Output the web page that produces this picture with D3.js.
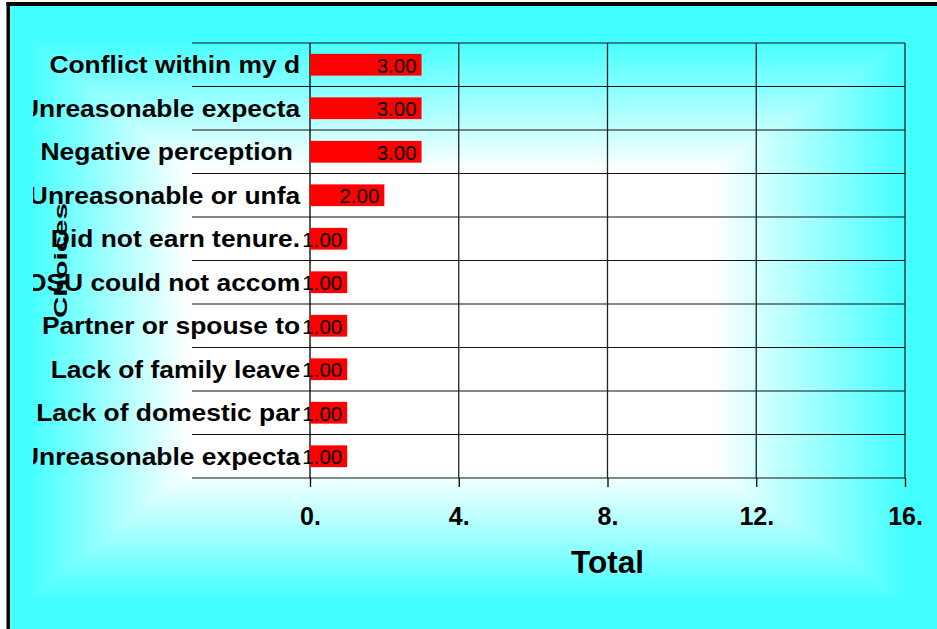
<!DOCTYPE html>
<html>
<head>
<meta charset="utf-8">
<script src="https://cdn.jsdelivr.net/npm/d3@7"></script>
<style>
  html, body { margin: 0; padding: 0; background: #ffffff; }
  svg { display: block; }
  text { font-family: "Liberation Sans", Arial, Helvetica, sans-serif; }
</style>
</head>
<body>
<svg id="chart" width="937" height="629"></svg>
<script>
// Category labels (cut to 20 characters, as the source sheet stores them)
const categories = [
  "Conflict within my d",
  "Unreasonable expecta",
  "Negative perception ",
  "Unreasonable or unfa",
  "Did not earn tenure.",
  "OSU could not accom",
  "Partner or spouse to",
  "Lack of family leave",
  "Lack of domestic par",
  "Unreasonable expecta"
];
// Response totals per category
const totals = [3, 3, 3, 2, 1, 1, 1, 1, 1, 1];
// Value axis ticks and their printed labels
const xTickValues = [0, 4, 8, 12, 16];
const xTickLabels = ["0.", "4.", "8.", "12.", "16."];
const xTitle = "Total";
const yTitle = "Choices";

const W = 937, H = 629;
const plot = { left: 310, right: 905, top: 43, bottom: 478 };
const cyan = "#44ffff";

const svg = d3.select("#chart");
const defs = svg.append("defs");

// Rectangular "from centre" fill: a horizontal and a vertical ramp, combined by darken
const hGrad = defs.append("linearGradient").attr("id", "hGrad")
  .attr("gradientUnits", "userSpaceOnUse").attr("x1", 10).attr("x2", W).attr("y1", 0).attr("y2", 0);
[[0, cyan], [0.02, cyan], [0.194, "#ffffff"], [0.76, "#ffffff"], [0.966, cyan], [1, cyan]]
  .forEach(([o, c]) => hGrad.append("stop").attr("offset", o).attr("stop-color", c));
const vGrad = defs.append("linearGradient").attr("id", "vGrad")
  .attr("gradientUnits", "userSpaceOnUse").attr("x1", 0).attr("x2", 0).attr("y1", 6).attr("y2", H);
[[0, cyan], [0.055, cyan], [0.263, "#ffffff"], [0.745, "#ffffff"], [0.953, cyan], [1, cyan]]
  .forEach(([o, c]) => vGrad.append("stop").attr("offset", o).attr("stop-color", c));

const bg = svg.append("g").style("isolation", "isolate");
bg.append("rect").attr("x", 10).attr("y", 6).attr("width", W - 10).attr("height", H - 6)
  .attr("fill", "url(#hGrad)");
bg.append("rect").attr("x", 10).attr("y", 6).attr("width", W - 10).attr("height", H - 6)
  .attr("fill", "url(#vGrad)").style("mix-blend-mode", "darken");

// Chart frame (top and left edges)
svg.append("rect").attr("x", 6.5).attr("y", 2).attr("width", W - 6.5).attr("height", 4).attr("fill", "#000");
svg.append("rect").attr("x", 6.5).attr("y", 2).attr("width", 3.5).attr("height", H - 2).attr("fill", "#000");

// Scales
const x = d3.scaleLinear().domain([0, 16]).range([plot.left, plot.right]);
const y = d3.scaleBand().domain(d3.range(categories.length))
  .range([plot.top, plot.bottom]).paddingInner(0.5).paddingOuter(0.25);

// Row separators, running out under the category labels
const rowEdges = d3.range(categories.length + 1).map(i => plot.top + i * y.step());
svg.append("g").selectAll("line").data(rowEdges).join("line")
  .attr("x1", 192).attr("x2", plot.right)
  .attr("y1", d => d).attr("y2", d => d)
  .attr("stroke", "#111").attr("stroke-width", 1.2);

// Vertical gridlines
svg.append("g").selectAll("line").data(xTickValues.filter(v => v > 0)).join("line")
  .attr("x1", d => x(d)).attr("x2", d => x(d))
  .attr("y1", plot.top).attr("y2", plot.bottom)
  .attr("stroke", "#222").attr("stroke-width", 1.3);

// Category axis line
svg.append("line").attr("x1", x(0)).attr("x2", x(0)).attr("y1", plot.top).attr("y2", plot.bottom)
  .attr("stroke", "#000").attr("stroke-width", 1.3);

// Value axis
const xAxis = d3.axisBottom(x).tickValues(xTickValues)
  .tickFormat((d, i) => xTickLabels[i]).tickSize(9).tickPadding(20);
const gx = svg.append("g").attr("transform", `translate(0,${plot.bottom})`).call(xAxis);
gx.select(".domain").remove();
gx.selectAll(".tick line").attr("stroke", "#000").attr("stroke-width", 1.3);
gx.selectAll(".tick text")
  .attr("font-family", "'Liberation Sans', Arial, sans-serif")
  .attr("font-size", 25).attr("font-weight", "bold").attr("fill", "#000");

// Category axis labels, clipped on the left
defs.append("clipPath").attr("id", "labelClip")
  .append("rect").attr("x", 33).attr("y", 0).attr("width", plot.left - 33).attr("height", H);
const yAxis = d3.axisLeft(y).tickSize(0).tickPadding(9).tickFormat(i => categories[i]);
const gy = svg.append("g").attr("clip-path", "url(#labelClip)")
  .append("g").attr("transform", `translate(${plot.left},0)`).call(yAxis);
gy.select(".domain").remove();
gy.selectAll(".tick text")
  .attr("font-family", "'Liberation Sans', Arial, sans-serif")
  .attr("font-size", 24).attr("font-weight", "bold").attr("fill", "#000")
  .attr("dy", "0.36em")
  .attr("transform", "scale(1.1,1)")
  .style("white-space", "pre");

// Bars
svg.append("g").selectAll("rect").data(totals).join("rect")
  .attr("x", x(0))
  .attr("y", (d, i) => y(i))
  .attr("width", d => x(d) - x(0))
  .attr("height", y.bandwidth())
  .attr("fill", "#ff0000");

// Value labels at the bar ends
const fmt = d3.format(".2f");
svg.append("g").selectAll("text").data(totals).join("text")
  .attr("x", d => x(d) - 5)
  .attr("y", (d, i) => y(i) + y.bandwidth() / 2)
  .attr("dy", "0.38em")
  .attr("text-anchor", "end")
  .attr("font-size", 20.5)
  .attr("fill", "#000")
  .text(d => fmt(d));

// Axis titles
svg.append("text")
  .attr("x", (plot.left + plot.right) / 2).attr("y", 573)
  .attr("text-anchor", "middle")
  .attr("font-size", 31.5).attr("font-weight", "bold").attr("fill", "#000")
  .text(xTitle);

svg.append("text")
  .attr("transform", `translate(67,${(plot.top + plot.bottom) / 2}) rotate(-90)`)
  .attr("text-anchor", "middle")
  .attr("font-size", 19).attr("font-weight", "bold").attr("fill", "#000")
  .attr("textLength", 115).attr("lengthAdjust", "spacingAndGlyphs")
  .text(yTitle);
</script>
</body>
</html>
